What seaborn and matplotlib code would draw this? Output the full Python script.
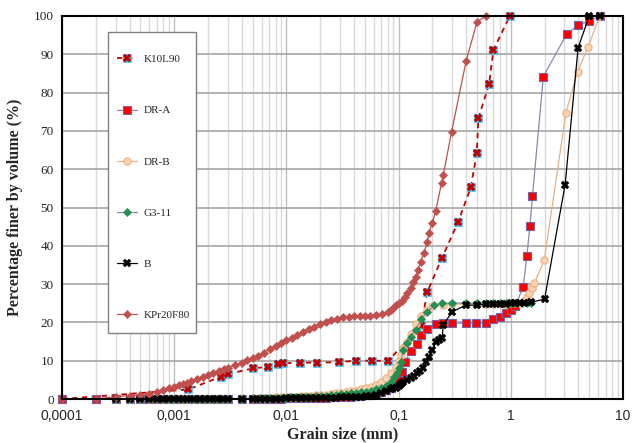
import matplotlib
matplotlib.use('Agg')
import matplotlib.pyplot as plt
import seaborn as sns
from matplotlib.ticker import LogLocator, NullFormatter, FixedLocator
from matplotlib.patches import Rectangle

sns.set_style('white')
plt.rcParams['font.family'] = ['Liberation Serif', 'DejaVu Serif']

# ---------------- data ----------------
series_names = ['K10L90', 'DR-A', 'DR-B', 'G3-11', 'B', 'KPr20F80']

# shared fine laser-diffraction grid (low size range)
x_low = [0.0003, 0.0004, 0.0005, 0.0006, 0.0007, 0.0008, 0.0009, 0.001, 0.0011,
         0.0012, 0.0013, 0.0015, 0.0017, 0.0019, 0.0021, 0.0024, 0.0027, 0.003,
         0.004, 0.005, 0.0058, 0.0065, 0.0072, 0.008, 0.009, 0.01, 0.011, 0.0122,
         0.0135, 0.015, 0.0166, 0.0184, 0.0204, 0.0226, 0.025, 0.0277, 0.0307,
         0.034, 0.0376, 0.0417, 0.0462, 0.0512, 0.0567, 0.0628, 0.0696, 0.0771,
         0.0854]

k10_x = [0.0001, 0.00133, 0.0026, 0.003, 0.005, 0.0069, 0.0085, 0.0094, 0.0131,
         0.0188, 0.0292, 0.0413, 0.058, 0.081, 0.159, 0.18, 0.244, 0.338, 0.44,
         0.497, 0.514, 0.64, 0.70, 0.98]
k10_y = [0, 2.5, 5.8, 6.5, 8.0, 8.4, 9.1, 9.3, 9.5, 9.5, 9.6, 10.0, 10.0, 10.0,
         19.3, 27.9, 36.9, 46.1, 55.3, 64.1, 73.3, 82.2, 91.1, 100]

dra_x_start = [0.0001, 0.0002]
dra_y_start = [0, 0]
dra_y_low = [0, 0, 0, 0, 0, 0, 0, 0, 0, 0, 0, 0, 0, 0, 0, 0, 0, 0,
             0, 0, 0.05, 0.05, 0.1, 0.1, 0.1, 0.15, 0.15, 0.2, 0.2, 0.25, 0.25,
             0.3, 0.3, 0.35, 0.4, 0.45, 0.5, 0.55, 0.6, 0.7, 0.8, 0.95, 1.1, 1.4,
             1.8, 2.3, 3.0]
dra_x_high = [0.093, 0.1, 0.107, 0.113, 0.13, 0.145, 0.159, 0.18, 0.215, 0.25,
              0.3, 0.4, 0.49, 0.6, 0.7, 0.8, 0.9, 1.0, 1.1, 1.29, 1.39, 1.48,
              1.56, 1.95, 3.14, 3.98, 5.0, 6.3]
dra_y_high = [3.6, 5.0, 7.1, 9.7, 12.6, 14.3, 16.7, 18.2, 19.6, 19.8, 19.8, 19.8,
              19.8, 19.8, 20.8, 21.5, 22.4, 23.2, 24.3, 29.3, 37.3, 45.2, 53.0,
              84.2, 95.2, 97.6, 98.7, 100]

drb_y_low = [0, 0, 0, 0, 0.02, 0.02, 0.03, 0.03, 0.04, 0.04, 0.05, 0.05, 0.06,
             0.07, 0.08, 0.09, 0.1, 0.1,
             0.15, 0.2, 0.25, 0.3, 0.35, 0.4, 0.45, 0.5, 0.55, 0.6, 0.7, 0.75,
             0.85, 0.95, 1.05, 1.15, 1.3, 1.45, 1.6, 1.8, 2.0, 2.2, 2.5, 2.8, 3.2,
             3.7, 4.4, 5.4, 6.8]
drb_x_high = [0.095, 0.1, 0.105, 0.11, 0.118, 0.128, 0.142, 0.159, 0.178, 0.2,
              0.25, 0.3, 0.4, 0.5, 0.6, 0.7, 0.8, 0.9, 1.0, 1.1, 1.2, 1.3, 1.39,
              1.45, 1.53, 1.62, 1.99, 3.1, 3.94, 4.9, 6.2]
drb_y_high = [8.3, 10.0, 11.5, 13.2, 15.0, 17.0, 19.5, 21.8, 23.3, 24.2, 24.6,
              24.8, 24.8, 24.8, 24.8, 24.8, 24.8, 24.9, 25.0, 25.0, 25.1, 25.5,
              26.7, 27.8, 28.9, 30.2, 36.3, 74.8, 85.5, 92.0, 100]

g3_y_low = [0, 0, 0, 0, 0.01, 0.01, 0.02, 0.02, 0.03, 0.03, 0.04, 0.04, 0.05,
            0.06, 0.07, 0.08, 0.09, 0.1,
            0.12, 0.15, 0.2, 0.22, 0.25, 0.3, 0.32, 0.35, 0.4, 0.45, 0.5, 0.55,
            0.62, 0.7, 0.8, 0.9, 1.0, 1.1, 1.25, 1.4, 1.5, 1.6, 1.75, 1.95, 2.2,
            2.5, 2.9, 3.5, 4.4]
g3_x_high = [0.091, 0.096, 0.1, 0.105, 0.11, 0.118, 0.128, 0.142, 0.159, 0.178,
             0.207, 0.245, 0.3, 0.4, 0.5, 0.6, 0.7, 0.8, 0.9, 1.0, 1.1, 1.25,
             1.4, 1.5]
g3_y_high = [5.7, 6.9, 8.0, 9.7, 12.8, 14.5, 16.3, 18.0, 21.0, 22.6, 24.5, 25.0,
             25.1, 25.0, 25.0, 25.0, 25.0, 25.0, 25.0, 25.0, 25.0, 25.0, 25.0,
             25.0]

b_y_low = [0, 0, 0, 0, 0, 0, 0, 0, 0, 0, 0, 0, 0, 0, 0, 0, 0, 0,
           0, 0, 0.1, 0.1, 0.1, 0.1, 0.1, 0.15, 0.15, 0.2, 0.2, 0.2, 0.2, 0.25,
           0.25, 0.3, 0.3, 0.35, 0.4, 0.45, 0.5, 0.55, 0.65, 0.75, 0.9, 1.1, 1.5,
           2.0, 2.5]
b_x_high = [0.09, 0.095, 0.1, 0.105, 0.11, 0.118, 0.128, 0.137, 0.147, 0.156,
            0.165, 0.175, 0.186, 0.2, 0.215, 0.23, 0.244, 0.25, 0.3, 0.4, 0.5,
            0.6, 0.69, 0.8, 0.9, 1.0, 1.1, 1.2, 1.3, 1.5, 2.0, 3.05, 3.98, 5.0,
            6.2]
b_y_high = [2.8, 3.0, 3.3, 3.8, 4.5, 4.9, 5.4, 6.0, 6.7, 7.3, 8.0, 9.7, 11.0,
            12.8, 15.0, 15.4, 15.8, 19.3, 22.8, 24.5, 24.5, 24.8, 24.8, 24.8,
            24.9, 25.0, 25.0, 25.0, 25.0, 25.2, 26.1, 56.0, 91.7, 100, 100]

kpr_x = [0.0001, 0.0002, 0.0003, 0.0004, 0.0005, 0.0006, 0.0007, 0.0008, 0.0009,
         0.001, 0.0011, 0.0012, 0.0013, 0.0014, 0.0016, 0.0018, 0.002, 0.0022,
         0.0025, 0.0028, 0.003, 0.0035, 0.004, 0.0045, 0.005, 0.0056, 0.0063,
         0.0071, 0.008, 0.009, 0.01, 0.0112, 0.0125, 0.014, 0.0158, 0.0178, 0.02,
         0.0224, 0.025, 0.028, 0.032, 0.036, 0.04, 0.045, 0.05, 0.056, 0.063,
         0.071, 0.08, 0.085, 0.09, 0.095, 0.1, 0.107, 0.113, 0.12, 0.128, 0.135,
         0.142, 0.148, 0.157, 0.168, 0.18, 0.186, 0.2, 0.214, 0.242, 0.25, 0.297,
         0.4, 0.5, 0.6]
kpr_y = [0, 0, 0.6, 0.9, 1.1, 1.4, 1.8, 2.3, 2.8, 3.2, 3.6, 4.0, 4.3, 4.6, 5.2,
         5.8, 6.3, 6.8, 7.3, 7.9, 8.2, 8.9, 9.5, 10.1, 10.6, 11.3, 12.1, 13.0,
         13.9, 14.7, 15.3, 16.0, 16.8, 17.5, 18.2, 18.9, 19.6, 20.2, 20.7, 21.0,
         21.3, 21.5, 21.6, 21.7, 21.7, 21.8, 21.9, 22.2, 22.6, 23.2, 23.8, 24.5,
         25.0, 25.6, 26.6, 27.6, 28.9, 30.5, 31.9, 33.7, 35.8, 38.2, 40.9, 43.4,
         46.0, 49.0, 56.5, 58.5, 69.8, 88.3, 98.5, 100]

xtick_vals = [0.0001, 0.001, 0.01, 0.1, 1, 10]
xtick_labels = ['0,0001', '0,001', '0,01', '0,1', '1', '10']
ytick_vals = [0, 10, 20, 30, 40, 50, 60, 70, 80, 90, 100]

# ---------------- figure ----------------
fig = plt.figure(figsize=(6.41, 4.43), dpi=100)
ax = fig.add_axes([62 / 641, 44 / 443, 561 / 641, 383 / 443])


def draw(x, y, **kw):
    sns.lineplot(x=x, y=y, ax=ax, sort=False, estimator=None, legend=False,
                 clip_on=False, **kw)
    return ax.lines[-1]


k_sq = draw(k10_x, k10_y, color='#C00000', linestyle=(0, (3, 2.5)), linewidth=1.3,
            marker='s', markersize=6, markerfacecolor='#4BC0EE',
            markeredgecolor='#4BC0EE', markeredgewidth=0.5)
k_x = draw(k10_x, k10_y, color='#C00000', linestyle='none', marker='X',
           markersize=5.5, markerfacecolor='#C00000', markeredgecolor='#C00000',
           markeredgewidth=0.3)
dra = draw(dra_x_start + x_low + dra_x_high, dra_y_start + dra_y_low + dra_y_high,
           color='#8F86AE', linewidth=0.9, marker='s', markersize=5.2,
           markerfacecolor='#FF0000', markeredgecolor='#7A62A8',
           markeredgewidth=0.8)
drb = draw(x_low + drb_x_high, drb_y_low + drb_y_high, color='#E8B083',
           linewidth=0.9, marker='o', markersize=5.2, markerfacecolor='#FBD3B5',
           markeredgecolor='#EDB080', markeredgewidth=0.8)
g3 = draw(x_low + g3_x_high, g3_y_low + g3_y_high, color='#8F86AE',
          linewidth=0.9, marker='D', markersize=4.3, markerfacecolor='#22904F',
          markeredgecolor='#22904F', markeredgewidth=0.5)
bl = draw(x_low + b_x_high, b_y_low + b_y_high, color='#000000', linewidth=0.9,
          marker='X', markersize=5.5, markerfacecolor='#000000',
          markeredgecolor='#000000', markeredgewidth=0.3)
kpr = draw(kpr_x, kpr_y, color='#C0504D', linewidth=0.9, marker='D',
           markersize=3.8, markerfacecolor='#C0504D', markeredgecolor='#C0504D',
           markeredgewidth=0.5)

ax.set_xscale('log')
ax.set_xlim(0.0001, 10)
ax.set_ylim(0, 100)

ax.xaxis.set_major_locator(FixedLocator(xtick_vals))
ax.set_xticks(xtick_vals, xtick_labels)
ax.xaxis.set_minor_locator(LogLocator(base=10, subs=[2, 3, 4, 5, 6, 7, 8, 9], numticks=20))
ax.xaxis.set_minor_formatter(NullFormatter())
ax.set_yticks(ytick_vals)

for lab in ax.get_xticklabels():
    lab.set_fontfamily(['Liberation Sans', 'DejaVu Sans'])
    lab.set_fontsize(10)
for lab in ax.get_yticklabels():
    lab.set_fontsize(9.5)

ax.tick_params(axis='both', which='both', length=0)
ax.tick_params(axis='x', pad=7)
ax.tick_params(axis='y', pad=6)

ax.grid(True, axis='x', which='minor', color='#D9D9D9', linewidth=1.0)
ax.grid(True, axis='x', which='major', color='#BFBFBF', linewidth=1.0)
ax.grid(True, axis='y', which='major', color='#A6A6A6', linewidth=1.2)
ax.set_axisbelow(True)

for sp in ax.spines.values():
    sp.set_visible(True)
    sp.set_color('black')
    sp.set_linewidth(1.5)

ax.set_xlabel('Grain size (mm)', fontsize=11.5, fontweight='bold', labelpad=3)
ax.set_ylabel('Percentage finer by volume (%)', fontsize=11.5, fontweight='bold',
              labelpad=8)

# legend box
box = Rectangle((0.082, 0.172), 0.157, 0.786, transform=ax.transAxes,
                facecolor='white', edgecolor='#808080', linewidth=1.0, zorder=4)
ax.add_patch(box)
handles = [(k_sq, k_x), dra, drb, g3, bl, kpr]
leg = ax.legend(handles, series_names, loc='upper left',
                bbox_to_anchor=(0.098, 0.8995), bbox_transform=ax.transAxes,
                frameon=False, fontsize=8, labelspacing=3.73, handlelength=1.8,
                handletextpad=0.6, borderpad=0, borderaxespad=0)
leg.set_zorder(5)

fig.savefig('out.png', dpi=100)
